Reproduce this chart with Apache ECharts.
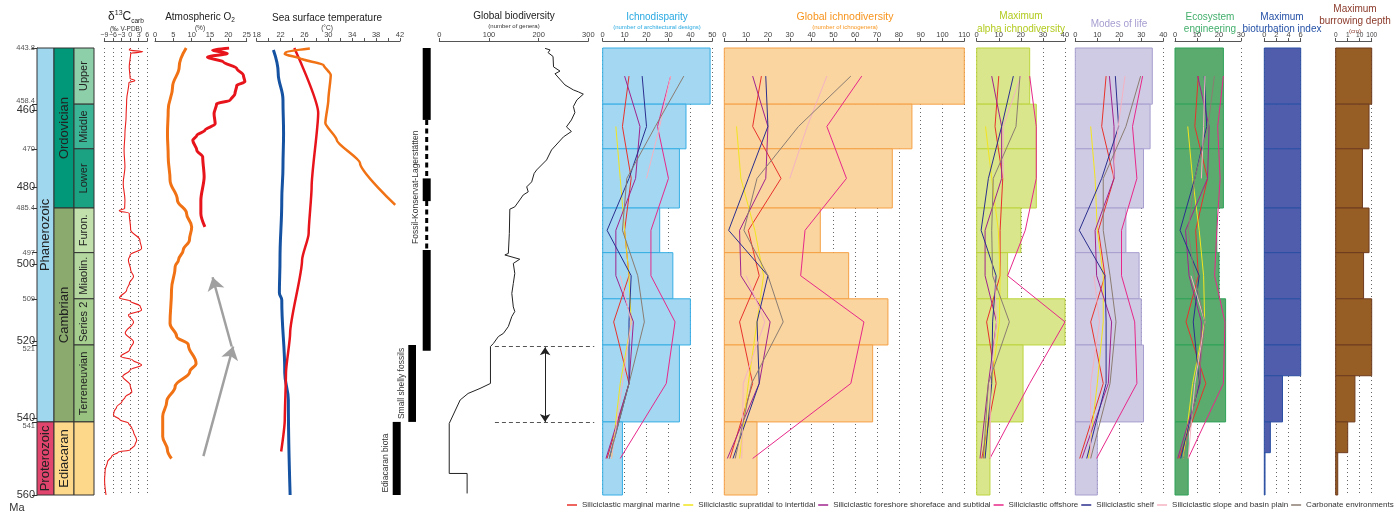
<!DOCTYPE html>
<html>
<head>
<meta charset="utf-8">
<title>Ordovician–Ediacaran bioturbation record</title>
<script src="https://cdn.jsdelivr.net/npm/echarts@6/dist/echarts.min.js"></script>
<style>
  html, body { margin: 0; padding: 0; background: #fff; }
  #chart { width: 1396px; height: 514px; }
</style>
</head>
<body>
<div id="chart"></div>
<script>
// ---------------- data ----------------
const AGE_TOP = 443.8;
const AGE_BASE = 560;

// geological time scale (Ma)
const timeTickValues = [443.8, 458.4, 460, 470, 480, 485.4, 497, 500, 509, 520, 521, 540, 541, 560];
const majorTimeTicks = [460, 480, 500, 520, 540, 560];

const stratNames = ['Phanerozoic', 'Proterozoic', 'Ordovician', 'Cambrian', 'Ediacaran',
  'Upper', 'Middle', 'Lower', 'Furon.', 'Miaolin.', 'Series 2', 'Terreneuvian', ''];
const stratTop  = [443.8, 541, 443.8, 485.4, 541, 443.8, 458.4, 470, 485.4, 497, 509, 521, 541];
const stratBase = [541, 560, 485.4, 541, 560, 458.4, 470, 485.4, 497, 509, 521, 541, 560];
const stratRank = [0, 0, 1, 1, 1, 2, 2, 2, 2, 2, 2, 2, 2];

// carbon isotopes: [age Ma, δ13C ‰]
const d13cRecord = [
  [443.9, 0.2], [444.3, -0.3], [444.8, 4.4], [445.2, 0.2], [448.7, -0.3], [451.7, 0], [452.3, 1.7],
  [452.8, -0.4], [457.3, -1.2], [461.7, -1.4], [466, -1.8], [470.3, -2.1], [474.7, -1.8], [479, -2.4],
  [483.3, -1.8], [485.5, -1.9], [486.1, -3.8], [486.8, -0.3], [491.1, 0.2], [493.7, 3.4], [495.9, 4],
  [497.6, 0], [498.9, -0.6], [501.5, 0.2], [503.2, 1.2], [504.9, -0.2], [506.7, -1.2], [508.8, -3.7],
  [509.6, 0], [510.9, 3.5], [511.9, 4], [513.2, -0.6], [515, 1.2], [517.9, -1.7], [520.2, 1.2],
  [522.3, -0.2], [524, -3.3], [524.9, 0.9], [526.2, 4], [527.5, 0], [529.2, -2.6], [531.4, 0],
  [533.2, 0.6], [534.5, -1.7], [535.8, -2.9], [537.1, -4.7], [538.4, -5.6], [539.2, -5.8],
  [540.5, -3.5], [541.3, -0.6], [542.6, 0.6], [543.6, 1.2], [545.7, 2.3], [547, 1.7], [548.3, 0],
  [548.8, -4.1], [549.9, -6.4], [551.4, -7.9], [553.5, -8.7], [556.1, -8.9], [560, -8.4]
];

// atmospheric oxygen (%): two reconstructions
const o2OrangeRecord = [
  [443.8, 8.5], [448.7, 6.6], [453.9, 4.8], [459.9, 3.6], [466, 3.4], [472.1, 3.6], [478.1, 4.1],
  [483.3, 6.1], [486.8, 8.6], [490.3, 10], [493.7, 9.4], [496.3, 7.7], [498.9, 6.4], [500.6, 5.5],
  [506.7, 4.5], [515.4, 4.1], [518.8, 5.9], [521, 9.1], [525.8, 11.2], [527.9, 9.5], [531.8, 5.5],
  [535.7, 3.2], [539.6, 2.1], [544.8, 2.1], [548.3, 3.4], [550.5, 4.5]
];
const o2RedRecord = [
  [443.8, 20.2], [444.4, 15.7], [445.2, 19.7], [446.2, 14.3], [447.4, 18.6], [449.1, 22.3],
  [450.9, 24.1], [452.6, 24.5], [453.5, 22.3], [455.7, 21.8], [457.4, 20.5], [458.3, 16.8],
  [460.9, 16.1], [463.5, 16.4], [465.2, 13.6], [466.5, 11.4], [467.8, 10.3], [470.4, 11.4],
  [472.1, 13], [477.3, 13.4], [483.4, 12.5], [486.8, 12.5], [490.3, 13.6]
];
// rising-oxygen trend arrows: [O2 %, age] tail -> head
const o2TrendArrows = [
  [[13.2, 549.9], [21.3, 521.4]],
  [[20.9, 521.4], [15.7, 503.4]]
];

// sea surface temperature (°C)
const sstBlueRecord = [
  [444.3, 20.8], [450.3, 21.6], [457.3, 22.4], [466, 22.5], [474.7, 22.4], [483.3, 22.2],
  [498.9, 21.9], [507.5, 21.8], [509.3, 22.2], [528.3, 22.7], [535.3, 23.3], [560, 23.6]
];
const sstRedRecord = [
  [443.8, 24.3], [460.7, 28.3], [479.9, 27.2], [492, 26.7], [498.9, 25.6], [517.9, 23.6],
  [528.3, 22.9], [540.5, 22.7], [548.7, 22.1]
];
const sstOrangeRecord = [
  [443.9, 26.9], [444.8, 22.9], [445.4, 22.7], [446.5, 25.3], [448.2, 29.2], [450.8, 30.4],
  [457.3, 30], [463.3, 29.5], [467.7, 31.4], [473.7, 35.3], [484.6, 41.2]
];

// exceptional preservation windows
const recordLabels = ['Ediacaran biota', 'Small shelly fossils', 'Fossil-Konservat-Lagerstätten'];
const recordLabelAge = [551.7, 531, 480];
const segmentLane = [0, 1, 2, 2, 2, 2, 2];
const segmentTop  = [541, 521, 443.8, 462.5, 477.7, 483.6, 496.3];
const segmentBase = [560, 541, 462.5, 477.7, 483.6, 496.3, 522.5];
const segmentDashed = [0, 0, 0, 1, 0, 1, 0];

// global biodiversity (number of genera): [age, genera]
const biodiversityRecord = [
  [443.9, 213], [444.3, 223], [445, 219], [446, 229], [448.7, 230], [449.8, 243], [450.5, 233],
  [453.4, 253], [454.7, 270], [455.2, 280], [455.8, 290], [457.3, 277], [459, 270], [460.6, 273],
  [462.5, 266], [464.3, 256], [465.5, 266], [466.9, 250], [470.3, 226], [472.9, 216], [475.5, 196],
  [476.4, 191], [478.6, 186], [479.9, 176], [481.2, 179], [482, 169], [483.3, 162], [485.1, 152],
  [485.7, 142], [492, 141], [497.2, 139], [497.6, 132], [498.7, 162], [499.8, 149], [502.4, 152],
  [505, 149], [507.6, 146], [511.1, 149], [512.3, 152], [513.6, 146], [516.2, 139], [518, 129],
  [518.8, 119], [520.6, 109], [521.4, 103], [531, 103], [532.3, 82], [533.6, 58], [535.3, 42],
  [541.4, 20], [554.4, 20], [554.4, 56], [559.6, 56]
];
// Cambrian explosion window bracket: [genera, age]
const explosionGuides = [
  [[112, 521.4], [312, 521.4]],
  [[112, 541.2], [312, 541.2]]
];
const explosionSpan = [[[213, 521.6], [213, 541]]];

// ichnological intervals
const intervalTop  = [443.8, 458.4, 470, 485.4, 497, 509, 521, 541];
const intervalBase = [458.4, 470, 485.4, 497, 509, 521, 541, 560];

const ichnodisparity  = [49, 38, 35, 26, 32, 40, 35, 9];
const ichnodiversity  = [110, 86, 77, 44, 57, 75, 68, 15];
const alphaDiversity  = [24, 27, 27, 20, 14, 40, 21, 6];
const modesOfLife     = [35, 34, 31, 23, 29, 30, 31, 10];
const ecoEngineering  = [22, 22, 22, 19, 20, 23, 23, 6];

const fineTop  = [443.8, 458.4, 470, 485.4, 497, 509, 521, 529, 541, 549];
const fineBase = [458.4, 470, 485.4, 497, 509, 521, 529, 541, 549, 560];
const bioturbationIndex = [6, 6, 6, 6, 6, 6, 6, 3, 1, 0.12];
const burrowDepthCm     = [100, 60, 17, 60, 21, 100, 100, 4, 1, 0.17];
const depthTickLabels   = ['0', '1', '10', '100'];

// depositional environments
const envNames = [
  'Siliciclastic marginal marine',
  'Siliciclastic supratidal to intertidal',
  'Siliciclastic foreshore shoreface and subtidal',
  'Siliciclastic offshore',
  'Siliciclastic shelf',
  'Siliciclastic slope and basin plain',
  'Carbonate environments'
];
// values per interval (Upper Ord. ... Ediacaran), null = no data
const disparityByEnv = [
  [12, 9, 13, 10, 12, 5, 12, 2],
  [null, 6, 8, 10, 12, 13, 8, 4],
  [10, 17, 15, 6, 6, 14, 12, 1.5],
  [31, 25, 30, 22, 22, 33, 29, 8],
  [18, 20, 12, 2, 13, 12, 12, 3],
  [31, 26, 20, null, 8, 13, 9, 4],
  [37, 24, 11, 9, 16, 19, 12, 3]
];
const ichnodiversityByEnv = [
  [17, 13, 26, 11, 16, 7, 13, 2.6],
  [null, 5.6, 7.6, 14, 18, 15, 11, 7],
  [13, 20, 19, 7, 7.6, 21, 16, 1.4],
  [63, 47, 56, 37, 35, 64, 58, 13],
  [19, 20, 11, 2, 20, 15, 16, 4],
  [47, 38, 30, null, 10, 18.6, 8.7, 8],
  [58, 34, 15, 9, 20, 27, 12.5, 5]
];
const alphaByEnv = [
  [10, 8.3, 11.8, 10.6, 10.6, 4.5, 8.8, 2.3],
  [null, 4, 6.8, 9.8, 10.6, 10.3, 6.8, 3.3],
  [6.8, 11.3, 11.3, 3.8, 3.8, 9, 5.3, 1.5],
  [24, 27, 27, 22, 14, 40, 24, 6],
  [16.6, 11.3, 5.3, 2, 8.8, 7.2, 6.8, 3.8],
  [20, 12, 12, null, 8, 9, 6, 6.3],
  [19.6, 17.8, 7.5, 6.8, 7.2, 14.8, 5.3, 3]
];
const modesByEnv = [
  [14, 12, 17.6, 10.5, 13.5, 7, 12.7, 2],
  [null, 7, 9, 10, 12.7, 12.7, 10, 6],
  [15.5, 17.6, 17.6, 9, 9.7, 16.5, 15, 3],
  [30.6, 26, 28, 21, 21, 27, 28, 9.7],
  [18.2, 19.7, 12, 1.8, 13.5, 14, 14, 5.2],
  [22.6, 19.5, 17, null, 8.5, 11, 7, 7],
  [29.7, 23, 12.7, 12.7, 15.8, 18.5, 15.8, 7]
];
const ecoByEnv = [
  [10.6, 9, 14.8, 9.4, 10.6, 5, 14, 1.8],
  [null, 5.8, 8, 11, 13, 13.5, 8, 3.8],
  [10.3, 15.5, 14.8, 4.8, 6.4, 12, 11.4, 1.2],
  [22, 19.4, 20.5, 19, 18, 22.7, 22, 6],
  [13.3, 14.4, 9, 2.3, 11, 8.3, 11, 2.6],
  [13.6, 13, 12, null, 7.3, 13.6, 9, 6],
  [17.9, 15, 9, 6, 8.8, 13.6, 10.6, 3.8]
];

// ---------------- styling & layout ----------------
const FONT = '"Liberation Sans", Arial, Helvetica, sans-serif';
const envColors = ['#E8322B', '#F2E51E', '#A0248E', '#E7288A', '#2B2F8E', '#F4B3C2', '#8B7D72'];
const stratColors = ['#9FD7EF', '#E1456E', '#009878', '#8AAB6D', '#FDD88A', '#8DCFA9', '#3BB596',
  '#1AA283', '#C1E0AB', '#B3D79E', '#A5CE8F', '#98C27F', '#FDD88A'];
const rankSpan = [[0, 17], [17, 37], [37, 57]];
const laneSpan = [[12.7, 20.7], [28.3, 36], [42.7, 50.7]];

const panels = [
  { left: 37, width: 57 },      // 0 time scale
  { left: 104.3, width: 43 },   // 1 δ13C
  { left: 155, width: 91.7 },   // 2 O2
  { left: 256.7, width: 143.3 },// 3 SST
  { left: 380, width: 60 },     // 4 preservation windows
  { left: 439.3, width: 149 },  // 5 biodiversity
  { left: 602.7, width: 109.6 },// 6 ichnodisparity
  { left: 724.3, width: 240 },  // 7 ichnodiversity
  { left: 976.7, width: 88.3 }, // 8 alpha
  { left: 1075.3, width: 88 },  // 9 modes of life
  { left: 1175, width: 66 },    // 10 ecosystem engineering
  { left: 1264.3, width: 36.4 },// 11 bioturbation index
  { left: 1335.7, width: 36 }   // 12 burrowing depth
];

function depthPosition(cm) {
  return cm <= 1 ? cm : 1 + Math.log10(cm);
}

function topAxis(gi, min, max, interval, opt) {
  opt = opt || {};
  return {
    gridIndex: gi, type: 'value', position: 'top', min, max, interval, offset: 7,
    axisLine: { show: true, lineStyle: { color: '#555', width: 1 } },
    axisTick: { show: true, length: 3, lineStyle: { color: '#555' } },
    axisLabel: { fontSize: opt.size || 7.5, color: '#444', margin: 2, fontFamily: FONT,
      formatter: opt.fmt || (v => String(v)) },
    splitLine: { show: !!opt.split, lineStyle: { type: [1, 3], color: '#666', width: 1 } }
  };
}

const xAxes = [
  { gridIndex: 0, type: 'value', min: 0, max: 57, show: false },
  topAxis(1, -9, 6, 3, { split: true, size: 7, fmt: v => v < 0 ? '\u2212' + (-v) : String(v) }),
  topAxis(2, 0, 25, 5),
  topAxis(3, 18, 42, 2, { fmt: v => ((v - 18) % 4 === 0 ? String(v) : '') }),
  { gridIndex: 4, type: 'value', min: 0, max: 60, show: false },
  topAxis(5, 0, 300, 100),
  topAxis(6, 0, 50, 10, { split: true }),
  topAxis(7, 0, 110, 10, { split: true }),
  topAxis(8, 0, 40, 10, { split: true }),
  topAxis(9, 0, 40, 10, { split: true }),
  topAxis(10, 0, 30, 10, { split: true }),
  topAxis(11, 0, 6, 2, { split: true }),
  topAxis(12, 0, 3, 1, { split: true, size: 6.5, fmt: v => depthTickLabels[v] })
];

const yAxes = panels.map((p, i) => {
  if (i !== 0) {
    return { gridIndex: i, type: 'value', min: AGE_TOP, max: AGE_BASE, inverse: true, show: false };
  }
  return {
    gridIndex: 0, type: 'value', min: AGE_TOP, max: AGE_BASE, inverse: true, position: 'left',
    axisLine: { show: true, lineStyle: { color: '#333', width: 1 } },
    axisTick: { show: true, customValues: timeTickValues, length: 5, lineStyle: { color: '#333' } },
    splitLine: { show: false },
    axisLabel: {
      customValues: timeTickValues, margin: 2, fontFamily: FONT,
      formatter: v => {
        if (majorTimeTicks.includes(v)) return '{big|' + v + '}';
        if (v === 458.4) return '{up|' + v + '}';
        if (v === 521 || v === 541) return '{dn|' + v + '}';
        return '{sm|' + v + '}';
      },
      rich: {
        big: { fontSize: 11, color: '#333', fontFamily: FONT },
        sm: { fontSize: 7.5, color: '#555', fontFamily: FONT },
        up: { fontSize: 7.5, color: '#555', fontFamily: FONT, padding: [0, 0, 6, 0] },
        dn: { fontSize: 7.5, color: '#555', fontFamily: FONT, padding: [8, 0, 0, 0] }
      }
    }
  };
});

const series = [];

// geological time scale boxes
series.push({
  type: 'custom', xAxisIndex: 0, yAxisIndex: 0, silent: true, z: 2,
  data: stratRank.map((r, i) => [r, stratTop[i], stratBase[i]]),
  encode: { x: 0, y: [1, 2] },
  renderItem: (params, api) => {
    const r = api.value(0);
    const p0 = api.coord([rankSpan[r][0], api.value(1)]);
    const p1 = api.coord([rankSpan[r][1], api.value(2)]);
    const i = params.dataIndex;
    return {
      type: 'group',
      children: [
        { type: 'rect', shape: { x: p0[0], y: p0[1], width: p1[0] - p0[0], height: p1[1] - p0[1] },
          style: { fill: stratColors[i], stroke: '#333', lineWidth: 1 } },
        { type: 'text', x: (p0[0] + p1[0]) / 2, y: (p0[1] + p1[1]) / 2, rotation: Math.PI / 2,
          style: { text: stratNames[i], fill: '#222', fontSize: r === 2 ? 11 : 13, fontFamily: FONT,
            align: 'center', verticalAlign: 'middle' } }
      ]
    };
  }
});

// simple curves on age axis
function ageCurve(gi, record, color, width, smooth) {
  return {
    type: 'line', xAxisIndex: gi, yAxisIndex: gi, silent: true, z: 3,
    data: record.map(d => [d[1], d[0]]),
    showSymbol: false, symbol: 'none', smooth: smooth || false, smoothMonotone: 'y',
    lineStyle: { color, width }, itemStyle: { color }
  };
}
series.push(ageCurve(1, d13cRecord, '#E8201E', 1.1, 0.35));
series.push(ageCurve(2, o2OrangeRecord, '#F07214', 3, 0.4));
series.push(ageCurve(2, o2RedRecord, '#E8141C', 3, 0.3));
series.push(ageCurve(3, sstBlueRecord, '#1552A2', 3, 0.4));
series.push(ageCurve(3, sstRedRecord, '#E8141C', 2.5, 0.2));
series.push(ageCurve(3, sstOrangeRecord, '#F07214', 2.5, 0.2));
series.push(ageCurve(5, biodiversityRecord, '#222', 1, false));

// O2 trend arrows
series.push({
  type: 'lines', coordinateSystem: 'cartesian2d', xAxisIndex: 2, yAxisIndex: 2, silent: true, z: 4,
  data: o2TrendArrows.map(c => ({ coords: c })),
  symbol: ['none', 'arrow'], symbolSize: 13,
  lineStyle: { color: '#A0A0A0', width: 2.5, opacity: 1 }
});

// Cambrian explosion bracket
series.push({
  type: 'lines', coordinateSystem: 'cartesian2d', xAxisIndex: 5, yAxisIndex: 5, silent: true, z: 4,
  clip: false,
  data: explosionGuides.map(c => ({ coords: c })),
  symbol: ['none', 'none'],
  lineStyle: { color: '#555', width: 1, type: [4, 3], opacity: 1 }
});
series.push({
  type: 'lines', coordinateSystem: 'cartesian2d', xAxisIndex: 5, yAxisIndex: 5, silent: true, z: 4,
  data: explosionSpan.map(c => ({ coords: c })),
  symbol: ['arrow', 'arrow'], symbolSize: 8,
  lineStyle: { color: '#222', width: 1, opacity: 1 }
});

// preservation windows
series.push({
  type: 'custom', xAxisIndex: 4, yAxisIndex: 4, silent: true, z: 2,
  data: segmentLane.map((l, i) => [l, segmentTop[i], segmentBase[i], segmentDashed[i]]),
  encode: { x: 0, y: [1, 2] },
  renderItem: (params, api) => {
    const lane = laneSpan[api.value(0)];
    const p0 = api.coord([lane[0], api.value(1)]);
    const p1 = api.coord([lane[1], api.value(2)]);
    if (api.value(3)) {
      const cx = (p0[0] + p1[0]) / 2;
      return { type: 'line', shape: { x1: cx, y1: p0[1], x2: cx, y2: p1[1] },
        style: { stroke: '#000', lineWidth: 3, lineDash: [5, 3.5] } };
    }
    return { type: 'rect', shape: { x: p0[0], y: p0[1], width: p1[0] - p0[0], height: p1[1] - p0[1] },
      style: { fill: '#000' } };
  }
});
series.push({
  type: 'custom', xAxisIndex: 4, yAxisIndex: 4, silent: true, z: 2,
  data: recordLabels.map((t, i) => [i, recordLabelAge[i]]),
  encode: { x: 0, y: 1 },
  renderItem: (params, api) => {
    const lane = laneSpan[api.value(0)];
    const p = api.coord([lane[0], api.value(1)]);
    return { type: 'text', x: p[0] - 7, y: p[1], rotation: Math.PI / 2,
      style: { text: recordLabels[params.dataIndex], fill: '#333', fontSize: 8.5, fontFamily: FONT,
        align: 'center', verticalAlign: 'middle' } };
  }
});

// interval bars
function intervalBars(gi, tops, bases, values, fill, stroke) {
  return {
    type: 'custom', xAxisIndex: gi, yAxisIndex: gi, silent: true, z: 1,
    data: values.map((v, i) => [v, tops[i], bases[i]]),
    encode: { x: 0, y: [1, 2] },
    renderItem: (params, api) => {
      const p0 = api.coord([0, api.value(1)]);
      const p1 = api.coord([api.value(0), api.value(2)]);
      return { type: 'rect', shape: { x: p0[0], y: p0[1], width: p1[0] - p0[0], height: p1[1] - p0[1] },
        style: { fill, stroke, lineWidth: 1 } };
    }
  };
}
series.push(intervalBars(6, intervalTop, intervalBase, ichnodisparity, '#A3D7F2', '#36AEE4'));
series.push(intervalBars(7, intervalTop, intervalBase, ichnodiversity, '#FAD5A0', '#F5A045'));
series.push(intervalBars(8, intervalTop, intervalBase, alphaDiversity, '#D9E68B', '#BDD43D'));
series.push(intervalBars(9, intervalTop, intervalBase, modesOfLife, '#D0CBE4', '#A79FCF'));
series.push(intervalBars(10, intervalTop, intervalBase, ecoEngineering, '#5CAB6E', '#2EA258'));
series.push(intervalBars(11, fineTop, fineBase, bioturbationIndex, '#4F5DAC', '#2A4FA3'));
series.push(intervalBars(12, fineTop, fineBase, burrowDepthCm.map(depthPosition), '#965E24', '#6E3B1F'));

// environment trajectories
const intervalMid = intervalTop.map((t, i) => (t + intervalBase[i]) / 2);
function envLines(gi, table) {
  table.forEach((vals, e) => {
    series.push({
      name: envNames[e], type: 'line', xAxisIndex: gi, yAxisIndex: gi, silent: true, z: 3,
      data: vals.map((v, i) => [v === null ? '-' : v, intervalMid[i]]),
      showSymbol: false, symbol: 'none', connectNulls: false,
      lineStyle: { color: envColors[e], width: 1 }, itemStyle: { color: envColors[e] }
    });
  });
}
envLines(6, disparityByEnv);
envLines(7, ichnodiversityByEnv);
envLines(8, alphaByEnv);
envLines(9, modesByEnv);
envLines(10, ecoByEnv);

// panel titles
const titleTexts = [
  { x: 126, y: 17, text: '{m|\u03b4}{s|13}{m|C}{b|carb}', color: '#222' },
  { x: 126, y: 29, text: '(\u2030 V-PDB)', color: '#333', size: 6.5 },
  { x: 200, y: 17, text: '{t|Atmospheric O}{b|2}', color: '#222' },
  { x: 200, y: 28, text: '(%)', color: '#333', size: 6.5 },
  { x: 327, y: 18, text: 'Sea surface temperature', color: '#222' },
  { x: 327, y: 28, text: '(\u00b0C)', color: '#333', size: 6.5 },
  { x: 514, y: 16, text: 'Global biodiversity', color: '#222' },
  { x: 514, y: 26, text: '(number of genera)', color: '#333', size: 6 },
  { x: 657, y: 17, text: 'Ichnodisparity', color: '#29A9E1' },
  { x: 657, y: 27, text: '(number of architectural designs)', color: '#29A9E1', size: 6 },
  { x: 845, y: 17, text: 'Global ichnodiversity', color: '#F7941D', size: 10.5 },
  { x: 845, y: 27, text: '(number of ichnogenera)', color: '#F7941D', size: 6 },
  { x: 1021, y: 16, text: 'Maximum', color: '#B3CB1F' },
  { x: 1021, y: 29, text: 'alpha ichnodiversity', color: '#B3CB1F' },
  { x: 1119, y: 24, text: 'Modes of life', color: '#A69DD0' },
  { x: 1210, y: 17, text: 'Ecosystem', color: '#43AF6C' },
  { x: 1210, y: 29, text: 'engineering', color: '#43AF6C' },
  { x: 1282, y: 17, text: 'Maximum', color: '#2551A6' },
  { x: 1282, y: 29, text: 'bioturbation index', color: '#2551A6' },
  { x: 1355, y: 9, text: 'Maximum', color: '#8B3A2A' },
  { x: 1355, y: 21, text: 'burrowing depth', color: '#8B3A2A' },
  { x: 1355, y: 31, text: '(cm)', color: '#8B3A2A', size: 6 },
  { x: 17, y: 508, text: 'Ma', color: '#333', size: 11 }
];
const graphic = titleTexts.map(t => ({
  type: 'text', x: t.x, y: t.y, silent: true,
  style: {
    text: t.text, fill: t.color, fontSize: t.size || 10, fontFamily: FONT,
    align: 'center', verticalAlign: 'middle',
    rich: {
      m: { fontSize: 12, fill: t.color, fontFamily: FONT, lineHeight: 15 },
      t: { fontSize: 10, fill: t.color, fontFamily: FONT, lineHeight: 13 },
      s: { fontSize: 7, fill: t.color, fontFamily: FONT, verticalAlign: 'top' },
      b: { fontSize: 6.5, fill: t.color, fontFamily: FONT, verticalAlign: 'bottom' }
    }
  }
}));

const option = {
  backgroundColor: '#fff',
  animation: false,
  textStyle: { fontFamily: FONT },
  grid: panels.map(p => ({ left: p.left, width: p.width, top: 48, height: 447 })),
  xAxis: xAxes,
  yAxis: yAxes,
  legend: {
    data: envNames, left: 567, top: 501, width: 900, padding: 0,
    icon: 'rect', itemWidth: 10, itemHeight: 1.5, itemGap: 3,
    selectedMode: false,
    textStyle: { fontSize: 8, color: '#333', fontFamily: FONT }
  },
  graphic,
  series
};

const chart = echarts.init(document.getElementById('chart'), null, { renderer: 'canvas' });
chart.setOption(option);
</script>
</body>
</html>
